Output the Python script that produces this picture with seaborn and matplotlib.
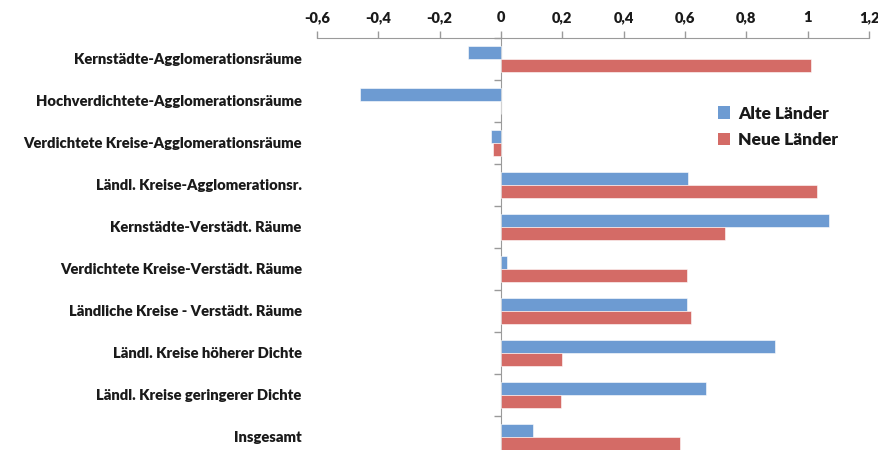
import seaborn as sns
import pandas as pd
import matplotlib.pyplot as plt
from matplotlib.patches import Patch

categories = [
    "Kernstädte-Agglomerationsräume",
    "Hochverdichtete-Agglomerationsräume",
    "Verdichtete Kreise-Agglomerationsräume",
    "Ländl. Kreise-Agglomerationsr.",
    "Kernstädte-Verstädt. Räume",
    "Verdichtete Kreise-Verstädt. Räume",
    "Ländliche Kreise - Verstädt. Räume",
    "Ländl. Kreise höherer Dichte",
    "Ländl. Kreise geringerer Dichte",
    "Insgesamt",
]
alte = [-0.107, -0.46, -0.033, 0.61, 1.07, 0.018, 0.605, 0.895, 0.667, 0.104]
neue = [1.01, 0.0, -0.025, 1.03, 0.73, 0.605, 0.62, 0.20, 0.195, 0.585]
series = ["Alte Länder", "Neue Länder"]
colors = ["#6D9BD2", "#D46B66"]
xticks = [-0.6, -0.4, -0.2, 0, 0.2, 0.4, 0.6, 0.8, 1.0, 1.2]
xticklabels = ["-0,6", "-0,4", "-0,2", "0", "0,2", "0,4", "0,6", "0,8", "1", "1,2"]

df = pd.DataFrame({
    "Kategorie": categories * 2,
    "Wert": alte + neue,
    "Serie": [series[0]] * len(categories) + [series[1]] * len(categories),
})

sns.set_style("white")
plt.rcParams["font.family"] = ["Lato", "DejaVu Sans"]
plt.rcParams["text.color"] = "#1a1a1a"

fig = plt.figure(figsize=(8.79, 4.5), dpi=100)
ax = fig.add_axes([317 / 879, -8 / 450, 552 / 879, 420 / 450])

sns.barplot(data=df, y="Kategorie", x="Wert", hue="Serie", orient="h",
            palette=colors, saturation=1, width=0.6, ax=ax, legend=False,
            edgecolor="white", linewidth=0.4)

ax.set_xlim(-0.6, 1.2)
ax.set_ylim(len(categories) - 0.5, -0.5)
ax.set_xlabel("")
ax.set_ylabel("")

# x axis on top
ax.xaxis.tick_top()
ax.set_xticks(xticks)
ax.set_xticklabels(xticklabels, fontweight="heavy", fontsize=10.5, color="#1a1a1a")
ax.tick_params(axis="x", direction="out", length=5, width=1, color="#9a9a9a", pad=5)
for s in ["left", "right", "bottom"]:
    ax.spines[s].set_visible(False)
ax.spines["top"].set_color("#9a9a9a")

# category labels
ax.set_yticks(range(len(categories)))
ax.set_yticklabels(categories, fontweight="heavy", fontsize=10.6, color="#1a1a1a")
ax.tick_params(axis="y", length=0, pad=11)

# vertical axis at x=0 with boundary ticks
sec = ax.secondary_yaxis(1 / 3)
sec.set_yticks([i - 0.5 for i in range(len(categories) + 1)])
sec.set_yticklabels([])
sec.tick_params(axis="y", direction="out", length=5, width=1, color="#9a9a9a")
sec.spines["left"].set_color("#9a9a9a")

handles = [Patch(facecolor=c, edgecolor="none") for c in colors]
fig.legend(handles, series, loc="upper left", bbox_to_anchor=(702 / 879, 1 - 90 / 450),
           frameon=False, prop={"weight": "heavy", "size": 12.5},
           handlelength=0.7, handleheight=0.7, handletextpad=0.5, labelspacing=0.6)

fig.savefig("out.png", dpi=100)
